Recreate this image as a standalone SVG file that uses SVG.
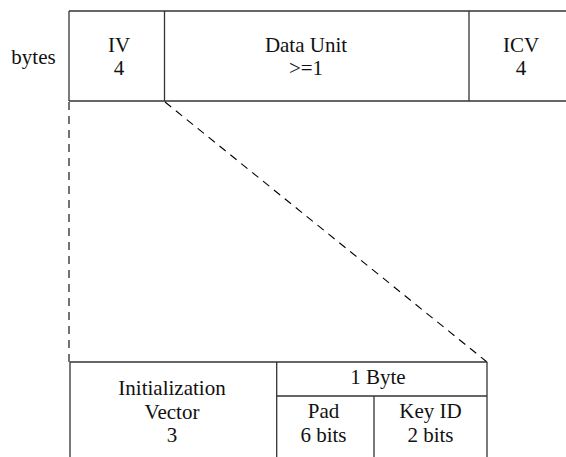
<svg xmlns="http://www.w3.org/2000/svg" width="566" height="457" viewBox="0 0 566 457">
<style>
.ln{stroke:#333;stroke-width:1.3;fill:none}
.ds{stroke:#000;stroke-width:1.1;fill:none;stroke-dasharray:8,6}
.t{font-size:21px;fill:#111;text-anchor:middle}
</style>
<rect width="566" height="457" fill="#fff"/>
<g font-family="'Liberation Serif', 'Times New Roman', Times, serif">
<text class="t" x="33.5" y="64">bytes</text>
<g id="top-frame">
<line class="ln" x1="69" y1="11" x2="566" y2="11"/>
<line class="ln" x1="69" y1="101" x2="566" y2="101"/>
<line class="ln" x1="69" y1="11" x2="69" y2="101"/>
</g>
<g id="iv">
<line class="ln" x1="164.5" y1="11" x2="164.5" y2="101"/>
<text class="t" x="119" y="51.5">IV</text>
<text class="t" x="119" y="75">4</text>
</g>
<g id="data-unit">
<text class="t" x="306" y="51.5">Data Unit</text>
<text class="t" x="306" y="75">&gt;=1</text>
</g>
<g id="icv">
<line class="ln" x1="469" y1="11" x2="469" y2="101"/>
<text class="t" x="521" y="51.5">ICV</text>
<text class="t" x="521" y="75">4</text>
</g>
<g id="connectors">
<line class="ds" x1="69" y1="102" x2="69" y2="362"/>
<line class="ds" x1="165" y1="102" x2="487" y2="362"/>
</g>
<g id="bottom-frame">
<line class="ln" x1="70" y1="362" x2="487" y2="362"/>
<line class="ln" x1="70" y1="362" x2="70" y2="457"/>
<line class="ln" x1="487" y1="362" x2="487" y2="457"/>
</g>
<g id="init-vector">
<line class="ln" x1="276.7" y1="362" x2="276.7" y2="457"/>
<text class="t" x="172" y="395">Initialization</text>
<text class="t" x="172" y="418.5">Vector</text>
<text class="t" x="172" y="442">3</text>
</g>
<g id="one-byte">
<line class="ln" x1="276.7" y1="396" x2="487" y2="396"/>
<text class="t" x="378" y="384">1 Byte</text>
</g>
<g id="pad">
<line class="ln" x1="374" y1="396" x2="374" y2="457"/>
<text class="t" x="323.5" y="418">Pad</text>
<text class="t" x="323.5" y="441.5">6 bits</text>
</g>
<g id="key-id">
<text class="t" x="430.5" y="418">Key ID</text>
<text class="t" x="430.5" y="441.5">2 bits</text>
</g>
</g>
</svg>
